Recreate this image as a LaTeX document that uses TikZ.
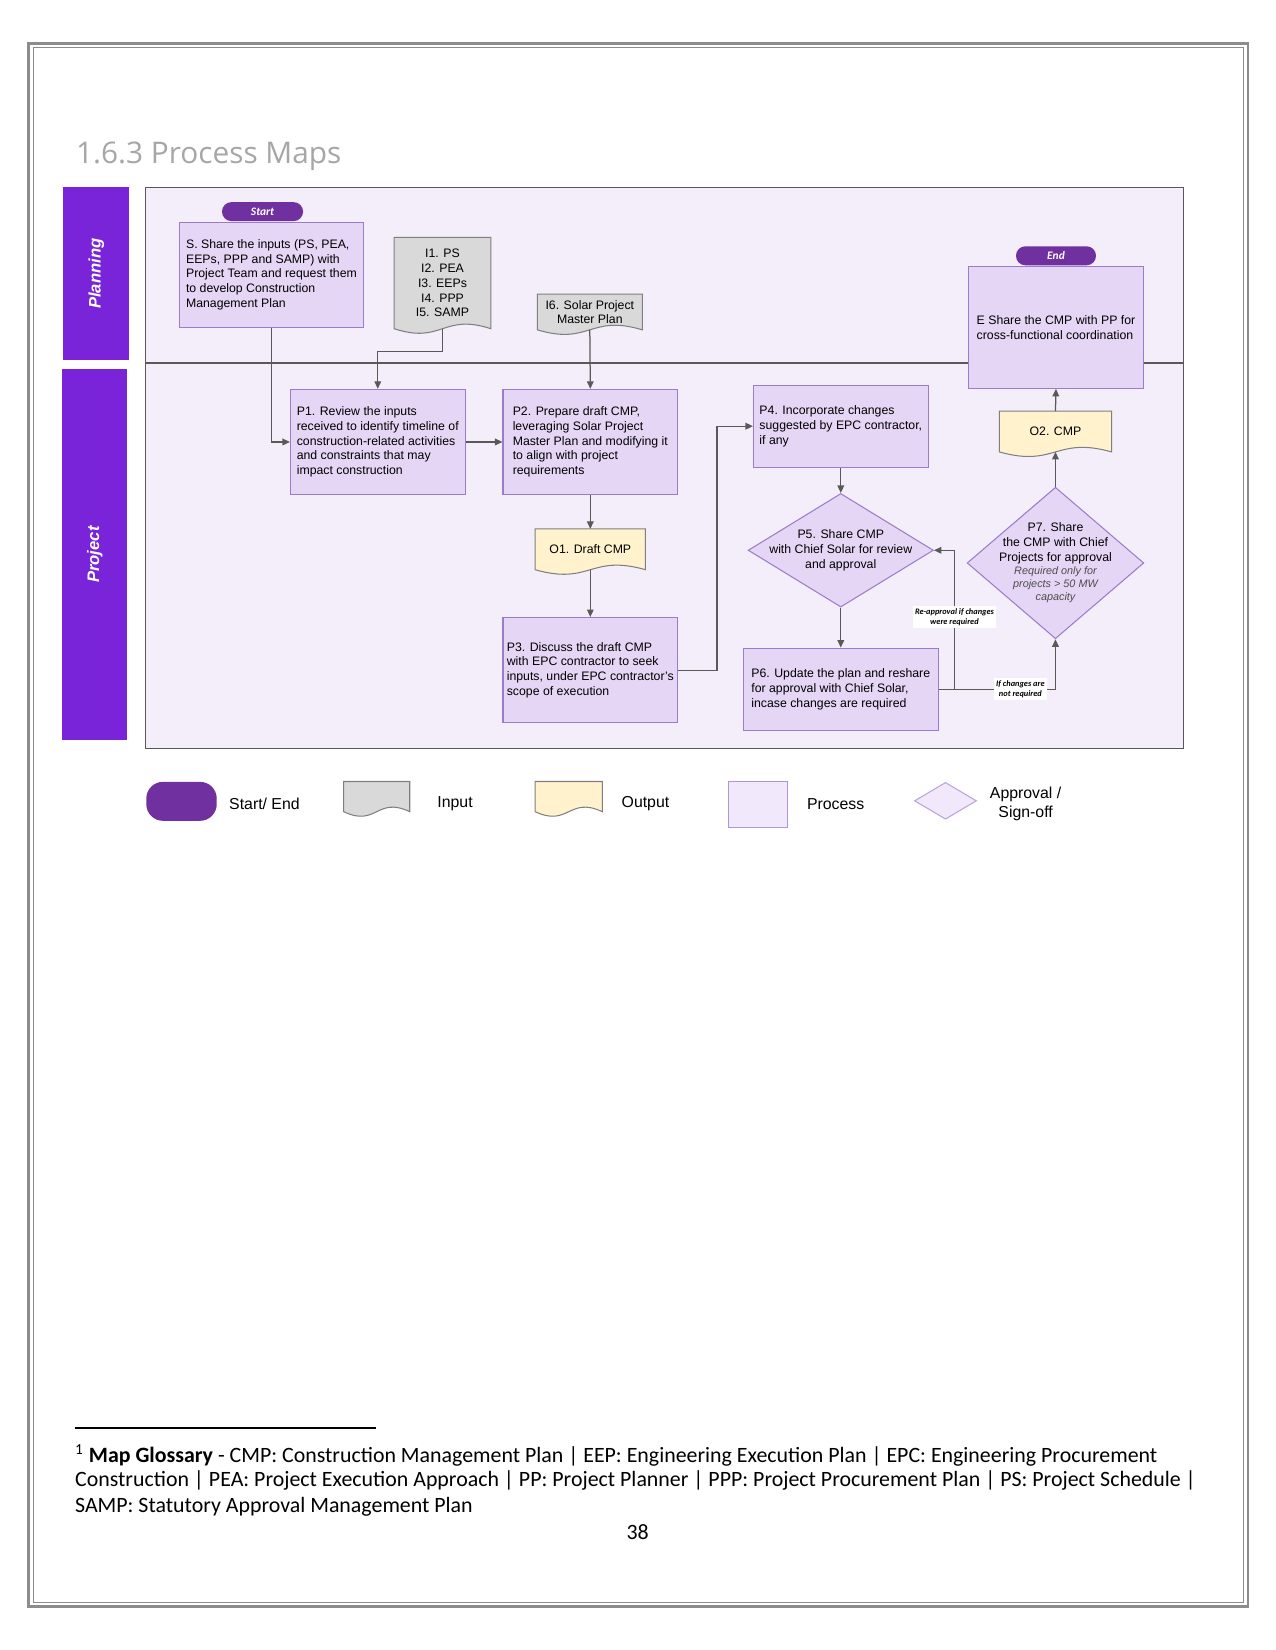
\documentclass[tikz,border=0pt]{standalone}
\usepackage{fontspec}
\setmainfont{Liberation Sans}
\newfontfamily\calibrifont{Carlito}
\newfontfamily\headfont{Open Sans}
\usetikzlibrary{arrows.meta,backgrounds,calc,positioning,shapes.geometric}

\definecolor{lanepurple}{HTML}{7A24D9}
\definecolor{pillpurple}{HTML}{7030A0}
\definecolor{mapbg}{HTML}{F3EEFA}
\definecolor{procfill}{HTML}{E6D6F5}
\definecolor{procline}{HTML}{9C7BC9}
\definecolor{infill}{HTML}{D9D9D9}
\definecolor{outfill}{HTML}{FFF2CC}
\definecolor{docline}{HTML}{7F7F7F}
\definecolor{flowgray}{HTML}{595959}
\definecolor{legfill}{HTML}{F1E8FB}
\definecolor{headgray}{HTML}{A6A6A6}
\definecolor{pagegray}{HTML}{8C8C8C}

\newcommand{\mapfont}{\fontsize{5.9}{7.1}\selectfont}
\newcommand{\req}[1]{{\fontsize{5.2}{6.3}\selectfont\itshape\color{black!70}#1}}

% wavy-bottom document outline drawn behind a named node
\newcommand{\docoutline}[2]{%
  \begin{scope}[on background layer]
    \draw[draw=docline, line width=0.5pt, fill=#2]
      (#1.north west) -- (#1.north east) -- (#1.south east)
      .. controls ($(#1.south)+(0,-15)$) and ($(#1.south)+(0,15)$) .. (#1.south west)
      -- cycle;
  \end{scope}}

\tikzset{
    cmp map/.style    = {x=0.505pt, y=-0.505pt,
                         >={Triangle[length=3.6pt, width=3.2pt]}},
    flow/.style       = {draw=flowgray, line width=0.6pt},
    lane/.style       = {fill=lanepurple, text=white, rotate=90, inner sep=0pt,
                         font=\bfseries\itshape\fontsize{8}{9.6}\selectfont},
    process/.style    = {draw=procline, fill=procfill, line width=0.5pt,
                         align=left, font=\mapfont, inner sep=0pt},
    startend/.style   = {fill=pillpurple, text=white, rounded corners=4.5pt,
                         inner sep=0pt,
                         font=\calibrifont\bfseries\itshape\fontsize{5.5}{6}\selectfont},
    document/.style   = {align=center, font=\mapfont, inner sep=0pt},
    approval/.style   = {diamond, draw=procline, fill=procfill, line width=0.5pt,
                         inner sep=0pt},
    in diamond/.style = {align=center, font=\mapfont, inner sep=0pt},
    note/.style       = {fill=white, align=center, inner sep=1pt,
                         font=\calibrifont\bfseries\itshape\fontsize{4}{5}\selectfont},
    legend/.style     = {inner sep=0pt, align=center,
                         font=\fontsize{7.6}{9}\selectfont},
    foot/.style       = {inner sep=0pt, anchor=base west,
                         font=\calibrifont\fontsize{10.5}{12.6}\selectfont}
}

\begin{document}
\begin{tikzpicture}[cmp map]
\useasboundingbox (0,0) rectangle (1212,1568);

% Page border, map frame and lane divider
\begin{scope}[on background layer]
    \draw[pagegray, line width=1.4pt] (27,41) rectangle (1186,1527);
    \draw[pagegray, line width=0.5pt] (31.5,45.5) rectangle (1181.5,1522.5);
    \draw[flowgray, line width=0.6pt, fill=mapbg] (138,178) rectangle (1125,711);
    \draw[flowgray, line width=0.8pt] (138,345) -- (1125,345);
\end{scope}

\node[anchor=base west, inner sep=0pt, text=headgray,
      font=\headfont\fontsize{14.3}{17}\selectfont] (title) at (72,155)
    {1.6.3 Process Maps};

% Swim lanes
\node[lane, minimum width=82.8pt, minimum height=31.8pt] (planning)
    at (91.5,260) {Planning};
\node[lane, minimum width=177.8pt, minimum height=31.3pt] (project)
    at (90,527) {Project};

% Planning lane: start, inputs and end
\node[process, minimum width=87.9pt, minimum height=50.5pt] (S) at (258,261)
    {S. Share the inputs (PS, PEA,\\ EEPs, PPP and SAMP) with\\
     Project Team and request them\\ to develop Construction\\ Management Plan};
\node[startend, minimum width=38.9pt, minimum height=9.1pt,
      above=0pt of S, xshift=-4.3pt] (start) {Start};

\node[document, minimum width=46pt, minimum height=43.4pt] (I15) at (420.5,269)
    {I1. PS\\ I2. PEA\\ I3. EEPs\\ I4. PPP\\ I5. SAMP};
\docoutline{I15}{infill}
\node[document, minimum width=50pt, minimum height=16.7pt] (I6) at (560.5,296.5)
    {I6. Solar Project\\ Master Plan};
\docoutline{I6}{infill}

\node[process, minimum width=84.3pt, minimum height=58.6pt] (E) at (1003.5,311)
    {E Share the CMP with PP for\\ cross-functional coordination};
\node[startend, minimum width=38.4pt, minimum height=9.1pt,
      above=0pt of E] (finish) {End};

% Project lane: process chain
\node[process, minimum width=83.8pt, minimum height=50.5pt] (P1) at (359,420)
    {P1. Review the inputs\\ received to identify timeline of\\
     construction-related activities\\ and constraints that may\\ impact construction};
\node[process, minimum width=83.8pt, minimum height=50.5pt, right=17.7pt of P1] (P2)
    {P2. Prepare draft CMP,\\ leveraging Solar Project\\
     Master Plan and modifying it\\ to align with project\\ requirements};
\node[document, minimum width=52.5pt, minimum height=19.2pt, below=16.2pt of P2] (O1)
    {O1. Draft CMP};
\docoutline{O1}{outfill}
\node[process, minimum width=83.8pt, minimum height=50.5pt, below=22.7pt of O1] (P3)
    {P3. Discuss the draft CMP\\ with EPC contractor to seek\\
     inputs, under EPC contractor’s\\ scope of execution};

\node[process, minimum width=83.8pt, minimum height=39.4pt] (P4) at (799,405)
    {P4. Incorporate changes\\ suggested by EPC contractor,\\ if any};
\node[approval, minimum width=88.9pt, minimum height=54.5pt, below=12.1pt of P4,
      label={[in diamond]center:{P5. Share CMP\\ with Chief Solar for review\\ and approval}}]
    (P5) {};
\node[process, minimum width=93.4pt, minimum height=39.4pt, below=19.2pt of P5] (P6)
    {P6. Update the plan and reshare\\ for approval with Chief Solar,\\
     incase changes are required};

\node[approval, minimum width=84.8pt, minimum height=72.7pt,
      label={[in diamond]center:{P7. Share\\ the CMP with Chief\\ Projects for approval\\[-0.8pt]
             \req{Required only for}\\[-0.8pt] \req{projects > 50 MW}\\[-0.8pt] \req{capacity}}}]
    (P7) at (1003,535) {};
\node[document, minimum width=53.5pt, minimum height=19.2pt, above=16.7pt of P7] (O2)
    {O2. CMP};
\docoutline{O2}{outfill}

% Connectors
\draw[flow, ->] (S.south) |- (P1.west);
\draw[flow, ->] (I15.south) -- ++(0,22) -| (P1.north);
\draw[flow, ->] (I6.south) -- (P2.north);
\draw[flow, ->] (P1.east) -- (P2.west);
\draw[flow, ->] (P2.south) -- (O1.north);
\draw[flow, ->] (O1.south) -- (P3.north);
\draw[flow, ->] (P3.east) -- ++(37,0) |- (P4.west);
\draw[flow, ->] (P4.south) -- (P5.north);
\draw[flow, ->] (P5.south) -- (P6.north);
\draw[flow, ->] (P6.east) -| node[note, pos=0.35] {If changes are\\ not required} (P7.south);
\coordinate[right=7.6pt of P6.east] (reshare);
\draw[flow, ->] (reshare) |- node[note, pos=0.26] {Re-approval if changes\\ were required} (P5.east);
\draw[flow, ->] (P7.north) -- (O2.south);
\draw[flow, ->] (O2.north) -- (E.south);

% Legend
\node[startend, minimum width=33.8pt, minimum height=18.7pt, rounded corners=8pt]
    (legStart) at (172.5,761.5) {};
\node[legend, right=5.6pt of legStart, yshift=-1pt] (legStartText) {Start/ End};
\node[document, minimum width=31.3pt, minimum height=14.1pt] (legIn) at (358,757) {};
\docoutline{legIn}{infill}
\node[legend, right=13.1pt of legIn, yshift=-3.5pt] (legInText) {Input};
\node[document, minimum width=31.8pt, minimum height=14.1pt] (legOut) at (540.5,757) {};
\docoutline{legOut}{outfill}
\node[legend, right=9.1pt of legOut, yshift=-3.5pt] (legOutText) {Output};
\node[process, fill=legfill, draw=procline!80, minimum width=28.3pt, minimum height=21.7pt]
    (legProc) at (720,764.5) {};
\node[legend, right=9.1pt of legProc] (legProcText) {Process};
\node[approval, fill=legfill, draw=procline!70, minimum width=29.8pt, minimum height=17.7pt]
    (legAppr) at (898.5,761) {};
\node[legend, right=6pt of legAppr, yshift=-1.5pt] (legApprText) {Approval /\\ Sign-off};

% Footnote and page number
\draw[line width=0.5pt] (71,1357) -- (357,1357);
\node[foot] (foot1) at (71,1390)
    {\textsuperscript{1} \textbf{Map Glossary} - CMP: Construction Management Plan | EEP: Engineering Execution Plan | EPC: Engineering Procurement};
\node[foot] (foot2) at (71,1413)
    {Construction | PEA: Project Execution Approach | PP: Project Planner | PPP: Project Procurement Plan | PS: Project Schedule |};
\node[foot] (foot3) at (71,1437) {SAMP: Statutory Approval Management Plan};
\node[foot, anchor=base] (pagenum) at (606,1463) {38};

\end{tikzpicture}
\end{document}
